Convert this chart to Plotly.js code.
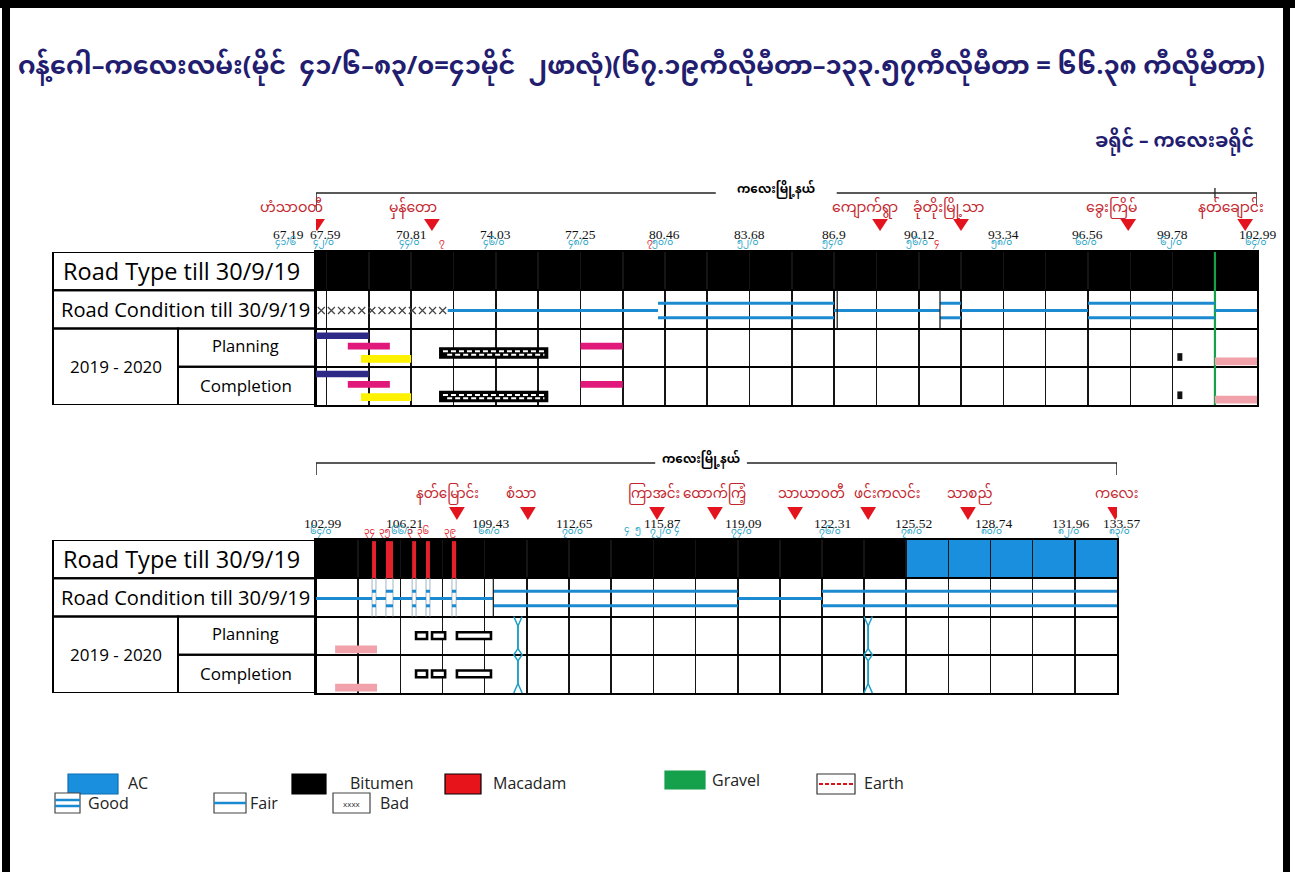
<!DOCTYPE html>
<html><head><meta charset="utf-8">
<script src="https://cdn.plot.ly/plotly-3.0.1.min.js"></script>
<style>html,body{margin:0;padding:0;background:#fff;overflow:hidden}#chart{width:1295px;height:872px}</style>
</head><body><div id="chart"></div>
<script>
// ================= DATA =================
const titleText = "ဂန့်ဂေါ–ကလေးလမ်း(မိုင်  ၄၁/၆–၈၃/၀=၄၁မိုင်  ၂ဖာလုံ)(၆၇.၁၉ကီလိုမီတာ–၁၃၃.၅၇ကီလိုမီတာ = ၆၆.၃၈ ကီလိုမီတာ)";
const subtitleText = "ခရိုင် – ကလေးခရိုင်";
const townshipName = "ကလေးမြို့နယ်";
const rowLabels = ["Road Type till 30/9/19", "Road Condition till 30/9/19", "2019 - 2020", "Planning", "Completion"];

// ---- panel 1 ----
const p1Range = [67.19, 102.99];
const p1Grid = [67.59, 69.20, 70.81, 72.42, 74.03, 75.64, 77.25, 78.86, 80.46, 82.07, 83.68, 85.29, 86.90, 88.51, 90.12, 91.73, 93.34, 94.95, 96.56, 98.17, 99.78, 101.39];
const p1TickKm = [67.19, 67.59, 70.81, 74.03, 77.25, 80.46, 83.68, 86.90, 90.12, 93.34, 96.56, 99.78, 102.99];
const p1TickText = ["67.19", "67.59", "70.81", "74.03", "77.25", "80.46", "83.68", "86.9", "90.12", "93.34", "96.56", "99.78", "102.99"];
const p1MileText = ["၄၁/၆", "၄၂/၀", "၄၄/၀", "၄၆/၀", "၄၈/၀", "၅၀/၀", "၅၂/၀", "၅၄/၀", "၅၆/၀", "၅၈/၀", "၆၀/၀", "၆၂/၀", "၆၄/၀"];
const p1RedKm = [71.98, 79.90, 90.82];
const p1RedText = ["၇", "၇", "၄"];
const p1TownKm = [67.23, 71.60, 88.65, 91.73, 98.09, 102.54];
const p1TownName = ["ဟံသာဝတီ", "မှန်တော", "ကျောက်ရွာ", "ခုံတိုးမြို့သာ", "ခွေးကြိမ်", "နတ်ချောင်း"];
const p1RoadFrom = [67.19];
const p1RoadTo = [102.99];
const p1RoadType = ["Bitumen"];
const p1GravelKm = [101.39];
const p1CondFrom = [67.19, 72.20, 80.20, 86.90, 90.93, 91.73, 96.56, 101.39];
const p1CondTo   = [72.20, 80.20, 86.90, 90.93, 91.73, 96.56, 101.39, 102.99];
const p1CondType = ["Bad", "Fair", "Good", "Fair", "Good", "Fair", "Good", "Fair"];
const p1CondBreaks = [87.02, 90.93];
const p1PlanFrom = [67.19, 68.40, 68.90, 71.90, 77.25, 99.96, 101.39];
const p1PlanTo   = [69.20, 70.00, 70.81, 76.00, 78.86, 100.15, 102.99];
const p1PlanType = ["navy", "magenta", "yellow", "pattern", "magenta", "square", "pink"];
const p1DoneFrom = [67.19, 68.40, 68.90, 71.90, 77.25, 99.96, 101.39];
const p1DoneTo   = [69.20, 70.00, 70.81, 76.00, 78.86, 100.15, 102.99];
const p1DoneType = ["navy", "magenta", "yellow", "pattern", "magenta", "square", "pink"];

// ---- panel 2 ----
const p2Range = [102.99, 133.57];
const p2Grid = [104.60, 106.21, 107.82, 109.43, 111.04, 112.65, 114.26, 115.87, 117.48, 119.09, 120.70, 122.31, 123.92, 125.52, 127.13, 128.74, 130.35, 131.96];
const p2TickKm = [102.99, 106.21, 109.43, 112.65, 115.87, 119.09, 122.31, 125.52, 128.74, 131.96, 133.57];
const p2TickText = ["102.99", "106.21", "109.43", "112.65", "115.87", "119.09", "122.31", "125.52", "128.74", "131.96", "133.57"];
const p2MileText = ["၆၄/၀", "၆၆/၀", "၆၈/၀", "၇၀/၀", "၇၂/၀", "၇၄/၀", "၇၆/၀", "၇၈/၀", "၈၀/၀", "၈၂/၀", "၈၃/၀"];
const p2CyanKm = [114.88, 115.28, 116.78];
const p2CyanText = ["၄", "၅", "၄"];
const p2TownKm = [108.37, 111.08, 116.01, 118.22, 121.28, 124.07, 127.88, 133.50];
const p2TownName = ["နတ်မြောင်း", "စံသာ", "ကြာအင်း", "ထောက်ကြံ့", "သာယာဝတီ", "ဖင်းကလင်း", "သာစည်", "ကလေး"];
const p2RoadFrom = [102.99, 125.52];
const p2RoadTo = [125.52, 133.57];
const p2RoadType = ["Bitumen", "AC"];
const p2MacFrom = [105.13, 105.66, 106.66, 107.19, 108.18];
const p2MacTo   = [105.28, 105.93, 106.81, 107.34, 108.34];
const p2MacText = ["၃၄", "၃၅", "၃", "၃၆", "၃၉"];
const p2CondFrom = [102.99, 105.13, 105.28, 105.66, 105.93, 106.66, 106.81, 107.19, 107.34, 108.18, 108.34, 109.76, 119.09, 122.31];
const p2CondTo   = [105.13, 105.28, 105.66, 105.93, 106.66, 106.81, 107.19, 107.34, 108.18, 108.34, 109.76, 119.09, 122.31, 133.57];
const p2CondType = ["Fair", "Good", "Fair", "Good", "Fair", "Good", "Fair", "Good", "Fair", "Good", "Fair", "Good", "Fair", "Good"];
const p2CondBreaks = [109.76];
const p2PlanFrom = [103.72, 106.81, 107.42, 108.37];
const p2PlanTo   = [105.32, 107.23, 107.92, 109.67];
const p2PlanType = ["pink", "box", "box", "box"];
const p2DoneFrom = [103.72, 106.81, 107.42, 108.37];
const p2DoneTo   = [105.32, 107.23, 107.92, 109.67];
const p2DoneType = ["pink", "box", "box", "box"];
const p2BridgeKm = [110.70, 124.07];

// legend
const legendRoad = ["AC", "Bitumen", "Macadam", "Gravel", "Earth"];
const legendCond = ["Good", "Fair", "Bad"];

// ================= STYLE / DRAWING =================
const W = 1295, H = 872;
const PX = v => v / W, PY = v => 1 - v / H;
const MY = "'Noto Sans Myanmar','Padauk','Myanmar Text','Myanmar3','Noto Sans','DejaVu Sans',sans-serif";
const SANS = "'Open Sans','DejaVu Sans',sans-serif";
const SERIF = "'Liberation Serif','DejaVu Serif',serif";
const C = {line: '#1c8ad0', ac: '#1a8fde', navy: '#2c2a86', magenta: '#e0197b', yellow: '#fff200', pink: '#f1a1a9',
  red: '#e4202a', green: '#15a04c', town: '#c3262e', cyan: '#1a9fc4', title: '#231d70', tri: '#e3141e'};
const ROAD_FILL = {Bitumen: '#000000', AC: C.ac, Macadam: C.red, Gravel: C.green};

const shapes = [], annotations = [], traces = [];
function rect(xr, yr, x0, x1, y0, y1, fill, lc, lw, layer) {
  shapes.push({type: 'rect', xref: xr, yref: yr, x0, x1, y0, y1, fillcolor: fill,
    line: {color: lc || fill, width: lw || 0}, layer: layer || 'above'});
}
function seg(xr, yr, x0, x1, y0, y1, color, w, dash) {
  shapes.push({type: 'line', xref: xr, yref: yr, x0, x1, y0, y1, line: {color, width: w, dash: dash || 'solid'}, layer: 'above'});
}
function ann(o) { annotations.push(Object.assign({showarrow: false, xanchor: 'center', yanchor: 'middle'}, o)); }

const WORK = {
  navy: {lane: 0.81, h: 0.17, fill: C.navy},
  magenta: {lane: 0.54, h: 0.18, fill: C.magenta},
  yellow: {lane: 0.205, h: 0.2, fill: C.yellow},
  pattern: {lane: [0.22, 0.36], h: 0.26},
  square: {lane: 0.255, h: 0.2, fill: '#111'},
  pink: {lane: 0.14, h: 0.2, fill: C.pink},
  box: {lane: 0.5, h: 0.18}
};

function buildPanel(P) {
  const xr = P.xr, yr = P.yr, Hd = P.hdr;
  // label column
  const L0 = PX(53), L1 = PX(178), L2 = PX(316);
  [[L0, L2, 3, 4], [L0, L2, 2, 3], [L0, L1, 0, 2], [L1, L2, 1, 2], [L1, L2, 0, 1]]
    .forEach(c => rect('paper', yr, c[0], c[1], c[2], c[3], 'rgba(0,0,0,0)', '#000', 2));
  ann({xref: 'paper', yref: yr, x: PX(61), y: 3.5, xanchor: 'left', text: rowLabels[0], font: {family: SANS, size: 23.5, color: '#000'}});
  ann({xref: 'paper', yref: yr, x: PX(59), y: 2.5, xanchor: 'left', text: rowLabels[1], font: {family: SANS, size: 20.1, color: '#000'}});
  ann({xref: 'paper', yref: yr, x: PX(116), y: 1, text: rowLabels[2], font: {family: SANS, size: 17, color: '#000'}});
  ann({xref: 'paper', yref: yr, x: PX(246), y: 1.55, text: rowLabels[3], font: {family: SANS, size: 16.5, color: '#000'}});
  ann({xref: 'paper', yref: yr, x: PX(246), y: 0.52, text: rowLabels[4], font: {family: SANS, size: 17, color: '#000'}});

  // road type
  P.roadFrom.forEach((f, i) => rect(xr, yr, f, P.roadTo[i], 3, 4, ROAD_FILL[P.roadType[i]], null, 0, 'below'));
  (P.macFrom || []).forEach((f, i) => rect(xr, yr, f, P.macTo[i], 3, 3.97, C.red, null, 0, 'above'));
  (P.macFrom || []).forEach((f, i) => {
    seg(xr, yr, f, f, 2, 3, '#9fb6c4', 1); seg(xr, yr, P.macTo[i], P.macTo[i], 2, 3, '#9fb6c4', 1);
  });
  (P.gravelKm || []).forEach(g => seg(xr, yr, g, g, 0, 4, C.green, 2.2));

  // road condition
  const badX = [], badY = [];
  P.condFrom.forEach((f, i) => {
    const t = P.condTo[i], ty = P.condType[i];
    if (ty === 'Good') { seg(xr, yr, f, t, 2.66, 2.66, C.line, 3); seg(xr, yr, f, t, 2.28, 2.28, C.line, 3); }
    else if (ty === 'Fair') { seg(xr, yr, f, t, 2.47, 2.47, C.line, 3); }
    else { for (let k = f + 0.2; k < t - 0.1; k += 0.385) { badX.push(k); badY.push(2.47); } }
  });
  if (badX.length) traces.push({type: 'scatter', mode: 'markers', x: badX, y: badY, xaxis: xr, yaxis: yr, hoverinfo: 'skip',
    marker: {symbol: 'x-thin', size: 7, line: {width: 1.2, color: '#444'}}});
  P.condBreaks.forEach(b => seg(xr, yr, b, b, 2, 3, '#222', 1.3));

  // planning / completion works
  [[P.planFrom, P.planTo, P.planType, 1, 1], [P.doneFrom, P.doneTo, P.doneType, 0, 0]].forEach(R => {
    const [fr, to, ty, base, idx] = R;
    fr.forEach((f, i) => {
      const s = WORK[ty[i]], t = to[i];
      const lane = Array.isArray(s.lane) ? s.lane[idx] : s.lane;
      const yc = base + lane, y0 = yc - s.h / 2, y1 = yc + s.h / 2;
      if (ty[i] === 'pattern') {
        rect(xr, yr, f, t, y0, y1, '#000', '#000', 1.5);
        seg(xr, yr, f + 0.12, t - 0.12, yc + s.h * 0.17, yc + s.h * 0.17, '#fff', 2, '5px,3px');
        seg(xr, yr, f + 0.28, t - 0.12, yc - s.h * 0.17, yc - s.h * 0.17, '#fff', 2, '5px,3px');
      } else if (ty[i] === 'box') {
        rect(xr, yr, f, t, y0, y1, '#fff', '#000', 2.6);
      } else {
        rect(xr, yr, f, t, y0, y1, s.fill, null, 0);
      }
    });
  });

  // bridges
  (P.bridgeKm || []).forEach(b => {
    const d = 0.16;
    [-1, 1].forEach(sg => traces.push({type: 'scatter', mode: 'lines', xaxis: xr, yaxis: yr, hoverinfo: 'skip', cliponaxis: false,
      x: [b + sg * d, b, b, b + sg * d, b, b, b + sg * d], y: [2, 1.75, 1.16, 1, 0.84, 0.25, 0],
      line: {color: C.cyan, width: 1.5}}));
  });

  // ticks / mile labels (header, paper y)
  P.tickKm.forEach((k, i) => {
    ann({xref: xr, yref: 'paper', x: k, y: PY(Hd.tick), text: P.tickText[i], xshift: (P.tickShift[i] || 0),
      font: {family: SERIF, size: 13.5, color: '#111'}});
    ann({xref: xr, yref: 'paper', x: k, y: PY(Hd.mile), text: P.mileText[i], xshift: (P.tickShift[i] || 0) - 2,
      font: {family: MY, size: 9, color: C.cyan}});
  });
  (P.redKm || []).forEach((k, i) => ann({xref: xr, yref: 'paper', x: k, y: PY(Hd.mile), text: P.redText[i], font: {family: MY, size: 9, color: C.red}}));
  (P.cyanKm || []).forEach((k, i) => ann({xref: xr, yref: 'paper', x: k, y: PY(Hd.mile - 2), text: P.cyanText[i], font: {family: MY, size: 9, color: C.cyan}}));
  (P.macFrom || []).forEach((f, i) => ann({xref: xr, yref: 'paper', x: (f + P.macTo[i]) / 2, y: PY(Hd.mile), xshift: -4, text: P.macText[i], font: {family: MY, size: 9, color: C.red}}));

  // towns: triangles + names
  P.townKm.forEach((k, i) => {
    shapes.push({type: 'path', xref: xr, yref: 'paper', fillcolor: C.tri, line: {color: C.tri, width: 0},
      path: `M ${k - 0.3},${PY(Hd.tri[0])} L ${k + 0.3},${PY(Hd.tri[0])} L ${k},${PY(Hd.tri[1])} Z`});
    ann({xref: xr, yref: 'paper', x: k, y: PY(Hd.town), text: P.townName[i], xshift: P.nameShift[i],
      font: {family: MY, size: P.townSize, color: C.town}});
  });

  // township bracket
  const B = P.bracket;
  const yb = PY(B.y);
  seg(xr, 'paper', P.range[0], B.textKm - B.gap, yb, yb, '#222', 1.5);
  seg(xr, 'paper', B.textKm + B.gap, P.range[1], yb, yb, '#222', 1.5);
  seg(xr, 'paper', P.range[0], P.range[0], yb, PY(B.y + B.dropL), '#222', 1.5);
  seg(xr, 'paper', P.range[1], P.range[1], yb, PY(B.y + B.drop), '#222', 1.5);
  if (B.tickKm) seg(xr, 'paper', B.tickKm, B.tickKm, PY(B.y - 5), PY(B.y + 5), '#222', 1.3);
  ann({xref: xr, yref: 'paper', x: B.textKm, y: PY(B.y - 3), text: townshipName, font: {family: MY, size: 12, color: '#000', weight: 'bold'}});
}

buildPanel({xr: 'x', yr: 'y', range: p1Range, tickKm: p1TickKm, tickText: p1TickText, mileText: p1MileText,
  tickShift: [-28, -1, 0, 0, 0, 0, 0, 0, 0, 0, 0, 0, 0], redKm: p1RedKm, redText: p1RedText,
  townKm: p1TownKm, townName: p1TownName, nameShift: [-26, -19, -15, -13, -17, -14], townSize: 14,
  hdr: {tick: 234, mile: 243, town: 208, tri: [219, 231]},
  roadFrom: p1RoadFrom, roadTo: p1RoadTo, roadType: p1RoadType, gravelKm: p1GravelKm,
  condFrom: p1CondFrom, condTo: p1CondTo, condType: p1CondType, condBreaks: p1CondBreaks,
  planFrom: p1PlanFrom, planTo: p1PlanTo, planType: p1PlanType, doneFrom: p1DoneFrom, doneTo: p1DoneTo, doneType: p1DoneType,
  bracket: {y: 193, drop: 12, dropL: 18, textKm: 84.7, gap: 2.3, tickKm: 101.39}});

buildPanel({xr: 'x2', yr: 'y2', range: p2Range, tickKm: p2TickKm, tickText: p2TickText, mileText: p2MileText,
  tickShift: [6, 4, 6, 5, 9, 6, 10, 7, 3, -4, 4], cyanKm: p2CyanKm, cyanText: p2CyanText,
  townKm: p2TownKm, townName: p2TownName, nameShift: [-9, -7, -3, 0, 16, 19, 2, 1], townSize: 13.5,
  hdr: {tick: 523, mile: 532, town: 495, tri: [507, 520]},
  roadFrom: p2RoadFrom, roadTo: p2RoadTo, roadType: p2RoadType, macFrom: p2MacFrom, macTo: p2MacTo, macText: p2MacText,
  condFrom: p2CondFrom, condTo: p2CondTo, condType: p2CondType, condBreaks: p2CondBreaks,
  planFrom: p2PlanFrom, planTo: p2PlanTo, planType: p2PlanType, doneFrom: p2DoneFrom, doneTo: p2DoneTo, doneType: p2DoneType,
  bridgeKm: p2BridgeKm,
  bracket: {y: 463, drop: 12, dropL: 12, textKm: 117.69, gap: 1.75}});

// subtitle
ann({xref: 'paper', yref: 'paper', x: PX(1256), y: PY(143), xanchor: 'right', text: subtitleText,
  font: {family: MY, size: 19, color: C.title, weight: 'bold'}});

// legend row 1
const lg1 = {AC: {x0: 68, x1: 118, tx: 126, fill: C.ac, lc: '#0f6fb0'}, Bitumen: {x0: 292, x1: 326, tx: 348, fill: '#000', lc: '#000'},
  Macadam: {x0: 445, x1: 481, tx: 491, fill: '#e8141c', lc: '#000'}, Gravel: {x0: 665, x1: 705, tx: 710, fill: C.green, lc: C.green},
  Earth: {x0: 817, x1: 855, tx: 862, fill: '#fff', lc: '#333'}};
legendRoad.forEach(n => {
  const s = lg1[n];
  const yt = n === 'Gravel' ? 771 : 774, yb2 = n === 'Gravel' ? 789 : 794;
  rect('paper', 'paper', PX(s.x0), PX(s.x1), PY(yb2), PY(yt), s.fill, s.lc, 1.2);
  if (n === 'Earth') seg('paper', 'paper', PX(s.x0 + 2), PX(s.x1 - 2), PY(784), PY(784), '#d8141c', 2, '4px,2px');
  ann({xref: 'paper', yref: 'paper', x: PX(s.tx), y: PY(n === 'Gravel' ? 780 : 783), xanchor: 'left', text: n, font: {family: SANS, size: 16, color: '#222'}});
});
// legend row 2
const lg2 = {Good: {x0: 55, x1: 80, tx: 86}, Fair: {x0: 214, x1: 246, tx: 248}, Bad: {x0: 333, x1: 370, tx: 378}};
legendCond.forEach(n => {
  const s = lg2[n];
  rect('paper', 'paper', PX(s.x0), PX(s.x1), PY(813), PY(793), '#fff', '#444', 1.2);
  if (n === 'Good') { seg('paper', 'paper', PX(s.x0), PX(s.x1), PY(800), PY(800), C.line, 2.5); seg('paper', 'paper', PX(s.x0), PX(s.x1), PY(806), PY(806), C.line, 2.5); }
  if (n === 'Fair') seg('paper', 'paper', PX(s.x0), PX(s.x1), PY(803), PY(803), C.line, 2.5);
  if (n === 'Bad') ann({xref: 'paper', yref: 'paper', x: PX((s.x0 + s.x1) / 2), y: PY(803), text: 'xxxx', font: {family: SANS, size: 8, color: '#333'}});
  ann({xref: 'paper', yref: 'paper', x: PX(s.tx), y: PY(803), xanchor: 'left', text: n, font: {family: SANS, size: 16, color: '#222'}});
});

// page frame
rect('paper', 'paper', 0, 1, PY(8), 1, '#000', null, 0);
rect('paper', 'paper', PX(2), PX(10), 0, 1, '#000', null, 0);
rect('paper', 'paper', PX(1283), PX(1290), 0, 1, '#000', null, 0);

const axX = (dom, rng, grid) => ({domain: dom, range: rng, tickvals: grid, showticklabels: false, ticks: '', showgrid: true,
  gridcolor: '#151515', gridwidth: 1.6, zeroline: false, showline: true, mirror: true, linecolor: '#000', linewidth: 2, fixedrange: true});
const axY = dom => ({domain: dom, range: [0, 4], tickvals: [1, 2, 3], showticklabels: false, ticks: '', showgrid: true,
  gridcolor: '#000', gridwidth: 2, zeroline: false, showline: true, mirror: true, linecolor: '#000', linewidth: 2, fixedrange: true});

const layout = {
  width: W, height: H, margin: {l: 0, r: 0, t: 0, b: 0}, paper_bgcolor: '#fff', plot_bgcolor: 'rgba(0,0,0,0)', showlegend: false,
  title: {text: titleText, x: PX(18), xanchor: 'left', y: PY(65), yanchor: 'middle', font: {family: MY, size: 25.5, color: C.title, weight: 'bold'}},
  xaxis: Object.assign(axX([PX(316), PX(1257)], p1Range, p1Grid), {anchor: 'y'}),
  yaxis: Object.assign(axY([PY(405), PY(252)]), {anchor: 'x'}),
  xaxis2: Object.assign(axX([PX(316), PX(1117)], p2Range, p2Grid), {anchor: 'y2'}),
  yaxis2: Object.assign(axY([PY(693), PY(540)]), {anchor: 'x2'}),
  shapes, annotations
};
Plotly.newPlot('chart', traces, layout, {staticPlot: true, displayModeBar: false});
</script></body></html>
